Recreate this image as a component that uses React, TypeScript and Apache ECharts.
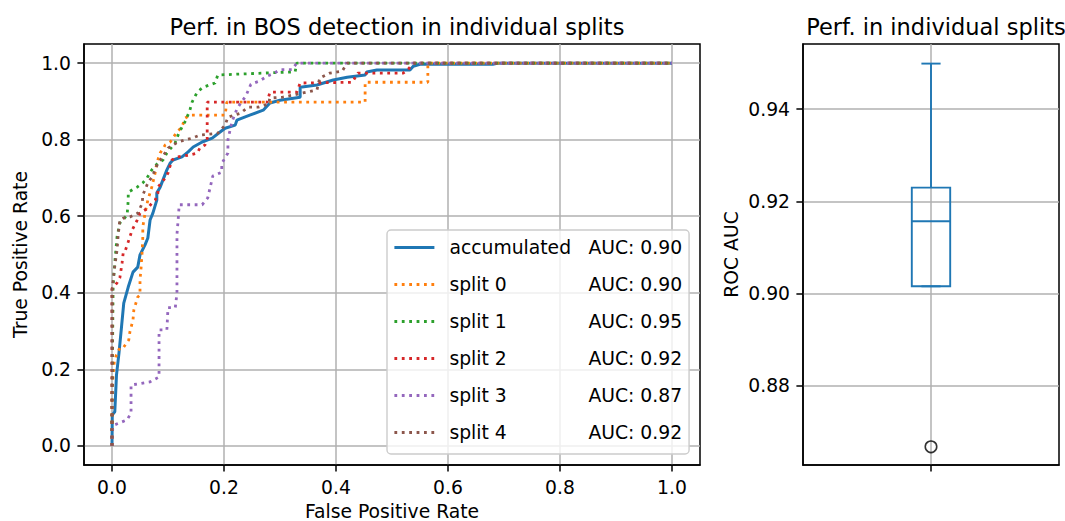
import React, { useEffect, useRef } from 'react';
import * as echarts from 'echarts';

const FONT = 'DejaVu Sans';

const xTicks = [0, 0.2, 0.4, 0.6, 0.8, 1.0];
const yTicks = [0, 0.2, 0.4, 0.6, 0.8, 1.0];
const boxTicks = [0.88, 0.9, 0.92, 0.94];

const seriesNames = ['accumulated', 'split 0', 'split 1', 'split 2', 'split 3', 'split 4'];
const aucLabels = ['0.90', '0.90', '0.95', '0.92', '0.87', '0.92'];
const colors = ['#1f77b4', '#ff7f0e', '#2ca02c', '#d62728', '#9467bd', '#8c564b'];

// AUC per split (split 0..4), shown in the box plot
const splitAuc = [0.9016, 0.9499, 0.9157, 0.8668, 0.923];

const accumulatedRoc = [
  [0, 0], [0.0005, 0.081], [0.005, 0.089], [0.008, 0.185], [0.0125, 0.243], [0.017, 0.311],
  [0.021, 0.373], [0.029, 0.415], [0.0375, 0.454], [0.046, 0.467], [0.05, 0.499], [0.059, 0.525],
  [0.064, 0.543], [0.068, 0.59], [0.073, 0.608], [0.08, 0.642], [0.08, 0.661], [0.086, 0.676],
  [0.091, 0.695], [0.098, 0.721], [0.104, 0.739], [0.109, 0.747], [0.125, 0.755], [0.136, 0.768],
  [0.145, 0.781], [0.161, 0.794], [0.179, 0.804], [0.193, 0.82], [0.202, 0.83], [0.22, 0.838],
  [0.223, 0.851], [0.246, 0.864], [0.27, 0.877], [0.282, 0.896], [0.3, 0.903], [0.336, 0.911],
  [0.336, 0.937], [0.366, 0.943], [0.395, 0.956], [0.42, 0.963], [0.452, 0.969], [0.455, 0.977],
  [0.473, 0.982], [0.532, 0.982], [0.538, 0.992], [0.55, 0.997], [0.68, 0.997], [0.69, 1], [1, 1],
];

const split0Roc = [
  [0, 0], [0, 0.15], [0.004, 0.22], [0.008, 0.238], [0.014, 0.256], [0.02, 0.256], [0.03, 0.277],
  [0.032, 0.298], [0.0375, 0.329], [0.039, 0.355], [0.046, 0.389], [0.05, 0.394], [0.05, 0.433],
  [0.052, 0.467], [0.054, 0.512], [0.055, 0.546], [0.055, 0.572], [0.059, 0.608], [0.064, 0.642],
  [0.071, 0.676], [0.077, 0.713], [0.08, 0.739], [0.086, 0.765], [0.095, 0.786], [0.104, 0.794],
  [0.116, 0.82], [0.125, 0.833], [0.13, 0.856], [0.139, 0.864], [0.202, 0.864], [0.205, 0.898],
  [0.452, 0.898], [0.452, 0.95], [0.564, 0.95], [0.564, 1], [1, 1],
];

const split1Roc = [
  [0, 0], [0, 0.086], [0.002, 0.42], [0.005, 0.48], [0.009, 0.546], [0.014, 0.582], [0.027, 0.603],
  [0.029, 0.642], [0.029, 0.663], [0.045, 0.676], [0.055, 0.687], [0.0625, 0.7], [0.071, 0.721],
  [0.082, 0.739], [0.091, 0.747], [0.098, 0.765], [0.1125, 0.791], [0.118, 0.812], [0.125, 0.833],
  [0.13, 0.846], [0.134, 0.859], [0.139, 0.877], [0.143, 0.898], [0.152, 0.924], [0.1625, 0.937],
  [0.184, 0.948], [0.189, 0.969], [0.27, 0.974], [0.327, 0.977], [0.33, 1], [1, 1],
];

const split2Roc = [
  [0, 0], [0, 0.41], [0.009, 0.426], [0.014, 0.439], [0.018, 0.478], [0.02, 0.504], [0.023, 0.507],
  [0.029, 0.533], [0.036, 0.564], [0.045, 0.59], [0.05, 0.608], [0.064, 0.621], [0.071, 0.634],
  [0.077, 0.642], [0.082, 0.661], [0.082, 0.676], [0.095, 0.7], [0.1, 0.713], [0.107, 0.747],
  [0.116, 0.755], [0.139, 0.76], [0.152, 0.765], [0.157, 0.778], [0.166, 0.786], [0.17, 0.799],
  [0.17, 0.838], [0.17, 0.898], [0.277, 0.898], [0.282, 0.924], [0.33, 0.924], [0.336, 0.948],
  [0.429, 0.95], [0.439, 0.974], [0.52, 0.974], [0.529, 0.984], [0.538, 1], [1, 1],
];

const split3Roc = [
  [0, 0], [0, 0.04], [0.005, 0.055], [0.027, 0.068], [0.034, 0.086], [0.034, 0.159], [0.0675, 0.167],
  [0.084, 0.18], [0.084, 0.303], [0.098, 0.303], [0.1, 0.361], [0.113, 0.361], [0.116, 0.399],
  [0.116, 0.553], [0.118, 0.588], [0.12, 0.63], [0.161, 0.63], [0.171, 0.648], [0.18, 0.705],
  [0.196, 0.715], [0.196, 0.738], [0.207, 0.765], [0.207, 0.8], [0.214, 0.846], [0.223, 0.88],
  [0.23, 0.896], [0.239, 0.914], [0.248, 0.945], [0.263, 0.953], [0.277, 0.966], [0.29, 0.974],
  [0.3, 0.983], [0.321, 0.983], [0.33, 1], [1, 1],
];

const split4Roc = [
  [0, 0], [0, 0.407], [0.005, 0.47], [0.009, 0.512], [0.011, 0.55], [0.014, 0.59], [0.02, 0.595],
  [0.032, 0.598], [0.046, 0.608], [0.054, 0.634], [0.055, 0.655], [0.064, 0.687], [0.071, 0.702],
  [0.077, 0.721], [0.082, 0.739], [0.089, 0.752], [0.1, 0.778], [0.109, 0.786], [0.118, 0.794],
  [0.13, 0.799], [0.143, 0.804], [0.157, 0.812], [0.189, 0.817], [0.202, 0.838], [0.207, 0.859],
  [0.229, 0.869], [0.243, 0.885], [0.261, 0.885], [0.279, 0.893], [0.282, 0.909], [0.305, 0.911],
  [0.341, 0.922], [0.366, 0.93], [0.371, 0.961], [0.389, 0.974], [0.411, 0.979], [0.42, 1], [1, 1],
];

const rocCurves = [accumulatedRoc, split0Roc, split1Roc, split2Roc, split3Roc, split4Roc];

function quantile(sorted: number[], p: number) {
  const pos = p * (sorted.length - 1);
  const lo = Math.floor(pos);
  const hi = Math.ceil(pos);
  return sorted[lo] + (sorted[hi] - sorted[lo]) * (pos - lo);
}

function boxStats(values: number[]) {
  const s = [...values].sort((a, b) => a - b);
  const q1 = quantile(s, 0.25);
  const med = quantile(s, 0.5);
  const q3 = quantile(s, 0.75);
  const iqr = q3 - q1;
  const inside = s.filter((v) => v >= q1 - 1.5 * iqr && v <= q3 + 1.5 * iqr);
  const fliers = s.filter((v) => v < q1 - 1.5 * iqr || v > q3 + 1.5 * iqr);
  return { lo: inside[0], q1, med, q3, hi: inside[inside.length - 1], fliers };
}

export default function App() {
  const ref = useRef<HTMLDivElement>(null);
  useEffect(() => {
    if (!ref.current) return;
    const chart = echarts.init(ref.current, undefined, { renderer: 'svg' });
    const stats = boxStats(splitAuc);
    const BOX_W = 0.15;
    const CAP_W = 0.075;

    const axisLine = { onZero: false, lineStyle: { color: '#000', width: 1.5 } };
    const tickStyle = { color: '#000', width: 1.5 };
    const gridLine = { show: true, lineStyle: { color: '#b0b0b0', width: 1.5 } };
    const labelStyle = { color: '#000', fontSize: 18.75, fontFamily: FONT };

    const lineSeries = seriesNames.map((name, i) => ({
      name,
      type: 'line',
      xAxisIndex: 0,
      yAxisIndex: 0,
      data: rocCurves[i],
      symbol: 'none',
      showSymbol: false,
      lineStyle: {
        color: colors[i],
        width: i === 0 ? 3 : 2.8,
        type: i === 0 ? 'solid' : [2.8, 4.6],
        cap: 'butt',
      },
      itemStyle: { color: colors[i] },
      z: 2 + i,
    }));

    const option: any = {
      animation: false,
      backgroundColor: '#fff',
      title: [
        {
          text: 'Perf. in BOS detection in individual splits',
          left: 392,
          top: 10,
          textAlign: 'center',
          textStyle: { fontSize: 22.5, fontWeight: 'normal', color: '#000', fontFamily: FONT },
        },
        {
          text: 'Perf. in individual splits',
          left: 931,
          top: 10,
          textAlign: 'center',
          textStyle: { fontSize: 22.5, fontWeight: 'normal', color: '#000', fontFamily: FONT },
        },
      ],
      grid: [
        { left: 84, top: 44, width: 616, height: 421, show: true, borderColor: '#000', borderWidth: 1.5, backgroundColor: 'transparent', containLabel: false, outerBoundsMode: 'none' },
        { left: 803, top: 44, width: 256, height: 421, show: true, borderColor: '#000', borderWidth: 1.5, backgroundColor: 'transparent', containLabel: false, outerBoundsMode: 'none' },
      ],
      xAxis: [
        {
          type: 'value',
          gridIndex: 0,
          min: -0.05,
          max: 1.05,
          axisLine,
          axisTick: { show: true, customValues: xTicks, length: 6.6, lineStyle: tickStyle },
          axisLabel: { customValues: xTicks, formatter: (v: number) => v.toFixed(1), margin: 13, ...labelStyle },
          splitLine: gridLine,
          name: 'False Positive Rate',
          nameLocation: 'middle',
          nameGap: 35,
          nameTextStyle: labelStyle,
        },
        {
          type: 'value',
          gridIndex: 1,
          min: 0.5,
          max: 1.5,
          axisLine,
          axisTick: { show: true, customValues: [1], length: 6.6, lineStyle: tickStyle },
          axisLabel: { show: false, customValues: [1] },
          splitLine: gridLine,
        },
      ],
      yAxis: [
        {
          type: 'value',
          gridIndex: 0,
          min: -0.05,
          max: 1.05,
          axisLine,
          axisTick: { show: true, customValues: yTicks, length: 6.6, lineStyle: tickStyle },
          axisLabel: { customValues: yTicks, formatter: (v: number) => v.toFixed(1), margin: 13, ...labelStyle },
          splitLine: gridLine,
          name: 'True Positive Rate',
          nameLocation: 'middle',
          nameGap: 52,
          nameTextStyle: labelStyle,
        },
        {
          type: 'value',
          gridIndex: 1,
          min: 0.86285,
          max: 0.95415,
          axisLine,
          axisTick: { show: true, customValues: boxTicks, length: 6.6, lineStyle: tickStyle },
          axisLabel: { customValues: boxTicks, formatter: (v: number) => v.toFixed(2), margin: 13, ...labelStyle },
          splitLine: gridLine,
          name: 'ROC AUC',
          nameLocation: 'middle',
          nameGap: 62,
          nameTextStyle: labelStyle,
        },
      ],
      legend: {
        orient: 'vertical',
        left: 387,
        top: 230,
        data: seriesNames,
        selectedMode: false,
        itemWidth: 40,
        itemHeight: 14,
        itemGap: 18,
        padding: [8, 7, 12, 6],
        backgroundColor: 'rgba(255,255,255,0.8)',
        borderColor: '#cccccc',
        borderWidth: 1.4,
        borderRadius: 4,
        lineStyle: { width: 2.8 },
        itemStyle: { color: 'rgba(0,0,0,0)', borderWidth: 0, opacity: 0 },
        formatter: (name: string) => {
          const i = seriesNames.indexOf(name);
          return `{a|${name}}{b|AUC: ${aucLabels[i]}}`;
        },
        textStyle: {
          color: '#000',
          fontFamily: FONT,
          fontSize: 18.75,
          rich: {
            a: { width: 139, padding: [0, 0, 0, 10], fontSize: 18.75, lineHeight: 20, fontFamily: FONT, color: '#000' },
            b: { fontSize: 18.75, lineHeight: 20, fontFamily: FONT, color: '#000' },
          },
        },
      },
      series: [
        ...lineSeries,
        {
          type: 'custom',
          xAxisIndex: 1,
          yAxisIndex: 1,
          data: [[1, stats.lo, stats.q1, stats.med, stats.q3, stats.hi]],
          encode: { x: 0, y: [1, 2, 3, 4, 5] },
          renderItem: (params: any, api: any) => {
            const x = api.value(0);
            const lo = api.coord([x, api.value(1)]);
            const q1 = api.coord([x, api.value(2)]);
            const med = api.coord([x, api.value(3)]);
            const q3 = api.coord([x, api.value(4)]);
            const hi = api.coord([x, api.value(5)]);
            const bw = api.size([BOX_W, 0])[0];
            const cw = api.size([CAP_W, 0])[0];
            const cx = q1[0];
            const style = { stroke: '#1f77b4', lineWidth: 1.9, fill: 'none' };
            return {
              type: 'group',
              children: [
                { type: 'line', shape: { x1: cx, y1: q3[1], x2: cx, y2: hi[1] }, style },
                { type: 'line', shape: { x1: cx, y1: q1[1], x2: cx, y2: lo[1] }, style },
                { type: 'line', shape: { x1: cx - cw / 2, y1: hi[1], x2: cx + cw / 2, y2: hi[1] }, style },
                { type: 'line', shape: { x1: cx - cw / 2, y1: lo[1], x2: cx + cw / 2, y2: lo[1] }, style },
                { type: 'rect', shape: { x: cx - bw / 2, y: q3[1], width: bw, height: q1[1] - q3[1] }, style },
                { type: 'line', shape: { x1: cx - bw / 2, y1: med[1], x2: cx + bw / 2, y2: med[1] }, style },
              ],
            };
          },
          z: 5,
        },
        {
          type: 'scatter',
          xAxisIndex: 1,
          yAxisIndex: 1,
          data: stats.fliers.map((v) => [1, v]),
          symbol: 'circle',
          symbolSize: 11.5,
          itemStyle: { color: 'rgba(0,0,0,0)', borderColor: '#000', borderWidth: 1.6 },
          z: 6,
        },
      ],
    };
    chart.setOption(option);
    return () => chart.dispose();
  }, []);
  return (
    <div
      ref={ref}
      style={{ position: 'fixed', left: 0, top: 0, width: 1065, height: 521, background: '#fff' }}
    />
  );
}
